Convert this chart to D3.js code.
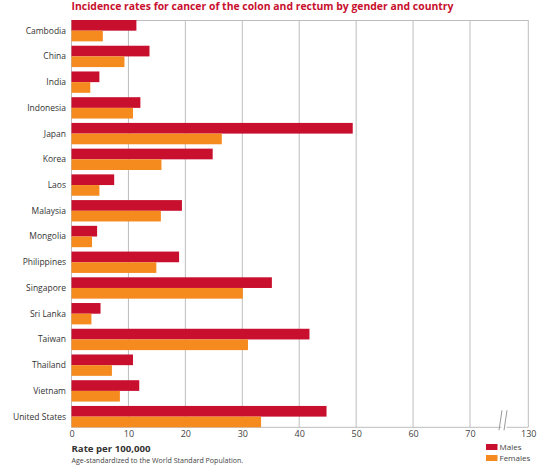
<!DOCTYPE html>
<html>
<head>
<meta charset="utf-8">
<script src="https://cdn.jsdelivr.net/npm/d3@7"></script>
<style>
  html, body { margin: 0; padding: 0; background: #fff; }
  svg { display: block; }
  text { font-family: "Open Sans", "Noto Sans", sans-serif; }
</style>
</head>
<body>
<svg id="chart" width="548" height="467"></svg>
<script>
const categories = ["Cambodia","China","India","Indonesia","Japan","Korea","Laos","Malaysia","Mongolia","Philippines","Singapore","Sri Lanka","Taiwan","Thailand","Vietnam","United States"];
const males   = [11.4, 13.7, 4.9, 12.1, 49.4, 24.8, 7.5, 19.4, 4.5, 18.9, 35.2, 5.1, 41.8, 10.8, 11.9, 44.8];
const females = [5.5, 9.3, 3.3, 10.8, 26.4, 15.8, 4.9, 15.7, 3.6, 14.9, 30.1, 3.5, 31.0, 7.1, 8.5, 33.3];
const tickValues = [0, 10, 20, 30, 40, 50, 60, 70, 130];
const seriesNames = ["Males", "Females"];
const colors = ["#c8102e", "#f58a1f"];
const titleText = "Incidence rates for cancer of the colon and rectum by gender and country";
const axisTitle = "Rate per 100,000";
const noteText = "Age-standardized to the World Standard Population.";

const svg = d3.select("#chart");
const plotLeft = 71.5, plotRight = 528.3, plotTop = 20, plotBottom = 427.3;

// fit a text element's font size so its width matches the reference width
function fitWidth(sel, target) {
  const node = sel.node();
  const base = parseFloat(sel.attr("font-size"));
  const w = node.getComputedTextLength();
  if (w > 0) sel.attr("font-size", (base * target / w).toFixed(2) + "px");
  return sel;
}

// piecewise scale with a break between 70 and 130
const x = d3.scaleLinear().domain([0, 70, 130]).range([plotLeft, 470, plotRight]);
const y = d3.scaleBand().domain(categories).range([plotTop, plotBottom]).paddingInner(0.17).paddingOuter(0);
const sub = d3.scaleBand().domain(seriesNames).range([0, y.bandwidth()]);

const gridColor = "#bdbdbd";

// title
fitWidth(svg.append("text")
  .attr("x", plotLeft).attr("y", 10)
  .attr("fill", "#c8102e")
  .attr("font-size", "10px").attr("font-weight", "bold")
  .text(titleText), 382);

// grid
const g = svg.append("g");
g.selectAll("line.grid").data(tickValues.filter(d => d > 0)).enter().append("line")
  .attr("x1", d => x(d)).attr("x2", d => x(d))
  .attr("y1", plotTop).attr("y2", plotBottom)
  .attr("stroke", gridColor).attr("stroke-width", 1);
g.append("line").attr("x1", plotLeft).attr("x2", plotRight).attr("y1", plotTop + 0.5).attr("y2", plotTop + 0.5)
  .attr("stroke", gridColor).attr("stroke-width", 1);
g.append("line").attr("x1", plotLeft).attr("x2", plotLeft).attr("y1", plotTop).attr("y2", plotBottom)
  .attr("stroke", gridColor).attr("stroke-width", 1);
const breakA = 501.5, breakB = 506.5;
g.append("line").attr("x1", plotLeft).attr("x2", breakA).attr("y1", plotBottom).attr("y2", plotBottom)
  .attr("stroke", gridColor).attr("stroke-width", 1);
g.append("line").attr("x1", breakB).attr("x2", plotRight).attr("y1", plotBottom).attr("y2", plotBottom)
  .attr("stroke", gridColor).attr("stroke-width", 1);
[breakA, breakB].forEach(bx => {
  g.append("line")
    .attr("x1", bx - 2.5).attr("y1", plotBottom + 3)
    .attr("x2", bx + 0.5).attr("y2", plotBottom - 17)
    .attr("stroke", "#9a9a9a").attr("stroke-width", 1);
});

// bars
const data = categories.map((c, i) => ({ c, vals: [males[i], females[i]] }));
const rows = svg.append("g").selectAll("g.row").data(data).enter().append("g")
  .attr("transform", d => `translate(0,${y(d.c)})`);
rows.selectAll("rect").data(d => d.vals.map((v, j) => ({ v, s: seriesNames[j], j }))).enter().append("rect")
  .attr("x", x(0))
  .attr("y", d => sub(d.s))
  .attr("width", d => x(d.v) - x(0))
  .attr("height", sub.bandwidth())
  .attr("fill", d => colors[d.j]);

// category labels
svg.append("g").selectAll("text").data(categories).enter().append("text")
  .attr("x", 66).attr("y", d => y(d) + y.bandwidth() / 2)
  .attr("dy", "0.35em")
  .attr("text-anchor", "end")
  .attr("fill", "#333")
  .attr("font-size", "8.5px")
  .text(d => d);

// x axis labels
const xAxis = d3.axisBottom(x).tickValues(tickValues).tickSize(0).tickPadding(3).tickFormat(d3.format("d"));
const ax = svg.append("g").attr("transform", `translate(0,${plotBottom + 0.5})`).call(xAxis);
ax.select(".domain").remove();
ax.selectAll("text").attr("fill", "#444").attr("font-size", "9px")
  .attr("font-family", "'Open Sans', 'Noto Sans', sans-serif");

// axis title & note
fitWidth(svg.append("text").attr("x", plotLeft).attr("y", 452)
  .attr("fill", "#333").attr("font-size", "10px").attr("font-weight", "bold")
  .text(axisTitle), 79);
fitWidth(svg.append("text").attr("x", plotLeft).attr("y", 463)
  .attr("fill", "#444").attr("font-size", "7px")
  .text(noteText), 172);

// legend
const leg = svg.append("g").selectAll("g").data(seriesNames).enter().append("g")
  .attr("transform", (d, i) => `translate(486,${444 + i * 11})`);
leg.append("rect").attr("width", 11.5).attr("height", 6).attr("fill", (d, i) => colors[i]);
leg.append("text").attr("x", 13.5).attr("y", 3).attr("dy", "0.35em")
  .attr("fill", "#444").attr("font-size", "8px").text(d => d);
</script>
</body>
</html>
